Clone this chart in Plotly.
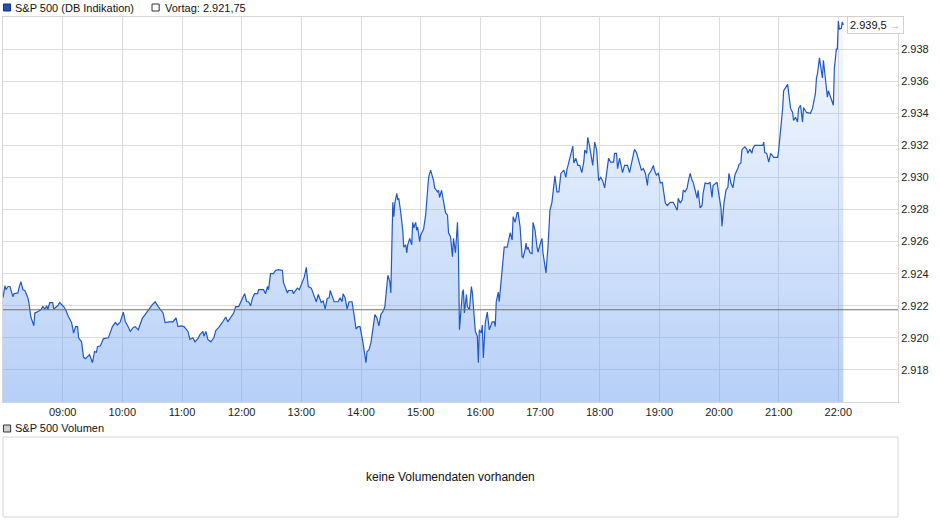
import datetime as dt
import plotly.graph_objects as go

# ---------------- data ----------------
title_main = "S&P 500 (DB Indikation)"
title_volume = "S&P 500 Volumen"
no_volume_text = "keine Volumendaten vorhanden"
previous_close = 2921.75

hour_ticks = ["09:00", "10:00", "11:00", "12:00", "13:00", "14:00", "15:00",
              "16:00", "17:00", "18:00", "19:00", "20:00", "21:00", "22:00"]
price_ticks = [2918, 2920, 2922, 2924, 2926, 2928, 2930, 2932, 2934, 2936, 2938]

# minutes after 08:00 and the index level at that minute
minutes_since_0800 = [
    0, 2, 3, 5, 7, 10, 11, 15, 16, 18,
    20, 22, 25, 26, 28, 31, 32, 34, 38, 40,
    42, 44, 45, 47, 50, 51, 55, 57, 61, 63,
    66, 69, 71, 73, 75, 76, 79, 81, 83, 85,
    87, 90, 92, 94, 95, 98, 101, 106, 110, 113,
    115, 118, 121, 123, 125, 128, 131, 133, 136, 140,
    143, 146, 150, 153, 156, 161, 163, 167, 171, 174,
    176, 179, 182, 186, 188, 191, 193, 196, 198, 201,
    202, 204, 206, 209, 212, 214, 217, 221, 224, 226,
    229, 232, 234, 237, 241, 243, 245, 247, 249, 251,
    253, 256, 257, 262, 264, 266, 267, 269, 272, 274,
    277, 281, 282, 286, 287, 291, 292, 296, 298, 301,
    303, 305, 307, 310, 312, 315, 317, 320, 322, 324,
    326, 328, 329, 331, 333, 337, 339, 341, 342, 344,
    346, 348, 351, 353, 355, 357, 359, 362, 365, 366,
    368, 370, 372, 374, 376, 378, 380, 383, 384, 386,
    387, 389, 390, 392, 393, 394, 396, 397, 398, 400,
    402, 403, 405, 406, 407, 409, 411, 412, 413, 415,
    416, 417, 419, 420, 423, 425, 427, 428, 430, 432,
    433, 434, 437, 438, 439, 441, 443, 445, 447, 448,
    450, 452, 453, 455, 457, 458, 459, 462, 463, 464,
    466, 467, 469, 471, 472, 473, 475, 477, 478, 479,
    481, 482, 483, 485, 487, 489, 492, 494, 495, 496,
    498, 499, 502, 504, 507, 508, 510, 512, 513, 515,
    517, 518, 520, 522, 523, 525, 526, 527, 528, 530,
    532, 533, 535, 537, 538, 540, 542, 543, 545, 546,
    548, 550, 552, 553, 555, 557, 559, 561, 564, 566,
    567, 569, 571, 573, 574, 576, 578, 580, 582, 584,
    585, 587, 588, 590, 593, 595, 597, 599, 601, 603,
    605, 607, 609, 611, 614, 615, 617, 618, 620, 623,
    625, 628, 630, 633, 635, 637, 639, 642, 644, 646,
    648, 649, 652, 654, 655, 657, 659, 661, 663, 664,
    666, 668, 671, 674, 676, 678, 679, 681, 683, 684,
    686, 688, 689, 691, 693, 694, 696, 698, 699, 701,
    703, 704, 706, 709, 711, 713, 714, 718, 720, 722,
    723, 725, 727, 729, 730, 732, 734, 736, 738, 739,
    740, 742, 743, 744, 746, 748, 749, 751, 753, 754,
    756, 758, 760, 764, 765, 766, 768, 769, 770, 772,
    775, 777, 779, 780, 782, 784, 785, 787, 789, 790,
    791, 792, 794, 795, 797, 799, 800, 802, 804, 805,
    808, 810, 812, 814, 815, 817, 818, 819, 821, 823,
    824, 825, 827, 829, 830, 832, 834, 835, 836, 838,
    839, 840, 841, 843, 844, 845,
]
prices = [
    2922.5, 2923.25, 2923.0, 2923.2, 2923.2, 2922.55, 2922.75, 2922.8, 2923.1, 2923.5,
    2923.0, 2922.95, 2922.5, 2922.2, 2921.3, 2920.75, 2921.55, 2921.6, 2921.75, 2921.95,
    2921.8, 2922.0, 2921.75, 2922.2, 2922.2, 2921.8, 2922.0, 2922.2, 2921.95, 2921.75,
    2921.3, 2920.95, 2920.3, 2920.7, 2920.7, 2920.0, 2919.75, 2918.8, 2918.7, 2918.8,
    2918.95, 2918.45, 2919.15, 2919.1, 2919.45, 2919.5, 2919.95, 2920.0, 2920.7, 2920.95,
    2920.8, 2921.0, 2921.6, 2921.0, 2920.8, 2920.4, 2920.65, 2920.7, 2920.5, 2921.2,
    2921.45, 2921.75, 2922.05, 2922.25, 2921.95, 2921.55, 2920.95, 2921.0, 2921.0, 2921.25,
    2920.7, 2920.75, 2920.7, 2920.4, 2919.9, 2920.0, 2919.75, 2919.95, 2920.2, 2920.4,
    2920.1, 2920.4, 2919.9, 2919.75, 2920.0, 2920.45, 2920.65, 2921.0, 2921.3, 2921.0,
    2921.25, 2921.55, 2921.95, 2921.95, 2922.5, 2922.75, 2922.25, 2922.25, 2922.0, 2922.5,
    2922.75, 2922.75, 2923.0, 2923.0, 2922.75, 2923.2, 2923.0, 2924.0, 2924.0, 2924.2,
    2924.25, 2924.2, 2923.45, 2922.8, 2922.95, 2922.95, 2922.75, 2923.1, 2923.0, 2923.5,
    2923.8, 2924.4, 2923.2, 2923.1, 2922.8, 2922.25, 2922.7, 2922.2, 2922.3, 2921.8,
    2922.45, 2922.5, 2922.95, 2922.6, 2922.25, 2922.25, 2922.5, 2922.25, 2922.75, 2922.5,
    2921.8, 2922.25, 2922.25, 2921.45, 2920.55, 2920.7, 2920.7, 2919.7, 2918.45, 2919.15,
    2919.25, 2919.7, 2920.7, 2921.45, 2921.25, 2920.75, 2921.45, 2921.75, 2921.95, 2923.45,
    2923.9, 2923.5, 2922.8, 2928.45, 2927.55, 2928.4, 2929.0, 2928.6, 2928.7, 2927.8,
    2926.7, 2925.65, 2925.8, 2925.3, 2925.8, 2926.2, 2925.8, 2927.2, 2926.85, 2927.2,
    2926.7, 2926.9, 2926.0, 2926.4, 2926.8, 2927.65, 2929.2, 2930.0, 2930.45, 2930.0,
    2929.8, 2929.35, 2929.1, 2929.2, 2928.75, 2929.2, 2928.4, 2927.8, 2927.65, 2926.55,
    2926.3, 2925.05, 2926.2, 2925.3, 2927.2, 2925.3, 2920.5, 2922.85, 2923.0, 2921.55,
    2922.7, 2921.95, 2921.75, 2923.2, 2922.8, 2921.95, 2920.4, 2920.1, 2918.45, 2920.5,
    2920.3, 2920.8, 2918.75, 2920.95, 2921.6, 2920.5, 2921.0, 2921.0, 2920.7, 2922.25,
    2922.85, 2922.25, 2924.65, 2925.65, 2925.65, 2925.95, 2926.55, 2926.1, 2927.55, 2927.2,
    2927.8, 2927.8, 2926.9, 2925.05, 2925.0, 2925.5, 2925.9, 2925.5, 2925.65, 2925.3,
    2925.25, 2927.2, 2926.7, 2925.65, 2925.35, 2925.8, 2926.2, 2925.3, 2924.35, 2924.05,
    2925.65, 2927.95, 2928.45, 2929.0, 2930.1, 2929.1, 2929.1, 2930.25, 2930.45, 2930.0,
    2930.45, 2930.95, 2931.4, 2931.95, 2930.9, 2931.2, 2930.75, 2930.75, 2930.3, 2930.95,
    2931.7, 2931.5, 2932.5, 2931.9, 2930.75, 2932.2, 2931.7, 2929.8, 2930.0, 2929.8,
    2929.35, 2930.25, 2931.2, 2930.95, 2930.95, 2931.5, 2931.5, 2930.55, 2931.2, 2930.3,
    2930.75, 2930.75, 2930.3, 2931.15, 2931.75, 2931.55, 2931.05, 2930.45, 2930.55, 2930.25,
    2929.5, 2930.15, 2930.45, 2930.75, 2930.45, 2930.15, 2930.25, 2929.65, 2929.7, 2929.2,
    2928.4, 2928.25, 2928.45, 2928.45, 2928.15, 2927.95, 2928.7, 2928.4, 2928.6, 2929.2,
    2929.1, 2929.35, 2929.7, 2930.25, 2929.8, 2929.7, 2929.2, 2928.7, 2929.2, 2928.1,
    2928.25, 2929.0, 2929.65, 2929.6, 2929.7, 2928.75, 2929.5, 2929.7, 2928.9, 2928.1,
    2926.95, 2928.4, 2929.2, 2929.4, 2930.25, 2929.65, 2929.35, 2930.15, 2930.45, 2930.55,
    2930.8, 2930.9, 2931.7, 2931.8, 2931.9, 2931.75, 2931.5, 2931.75, 2931.5, 2931.8,
    2932.0, 2932.0, 2932.0, 2932.0, 2932.2, 2931.55, 2931.5, 2931.25, 2930.95, 2931.5,
    2931.25, 2931.25, 2931.25, 2931.7, 2932.95, 2934.3, 2935.4, 2935.65, 2935.8, 2935.3,
    2934.5, 2934.3, 2934.05, 2933.55, 2933.75, 2933.45, 2934.3, 2934.5, 2933.45, 2934.35,
    2934.05, 2934.0, 2934.0, 2934.3, 2934.65, 2935.25, 2936.2, 2936.45, 2937.45, 2936.65,
    2936.2, 2937.3, 2936.2, 2935.0, 2935.4, 2935.0, 2934.65, 2934.5, 2936.8, 2938.0,
    2938.0, 2939.75, 2939.25, 2939.3, 2939.7, 2939.5,
]

# ---------------- helpers ----------------
base = dt.datetime(2019, 4, 26, 8, 0)
times = [base + dt.timedelta(minutes=m) for m in minutes_since_0800]
tick_times = [dt.datetime.combine(base.date(), dt.time.fromisoformat(h)) for h in hour_ticks]


def de(v, nd):
    s = f"{v:,.{nd}f}"
    return s.replace(",", "X").replace(".", ",").replace("X", ".")


FONT = "Liberation Sans, Arial, sans-serif"
y_lo, y_hi = 2916, 2940

fig = go.Figure()
fig.add_trace(go.Scatter(
    x=times, y=prices, mode="lines",
    line=dict(color="#2159c4", width=1.2),
    fill="tozeroy",
    fillgradient=dict(type="vertical",
                      colorscale=[[0, "rgba(110,160,240,0.5)"], [1, "rgba(110,160,240,0.05)"]],
                      start=y_lo, stop=y_hi),
    hoverinfo="skip", showlegend=False,
))

fig.add_shape(type="line", xref="x domain", yref="y", x0=0, x1=1,
              y0=previous_close, y1=previous_close,
              line=dict(color="#707070", width=1), layer="above")

# volume panel
fig.add_shape(type="rect", xref="paper", yref="paper", x0=0, x1=1, y0=0, y1=0.16,
              line=dict(color="#d6d6d6", width=1), fillcolor="rgba(0,0,0,0)")
fig.add_annotation(xref="paper", yref="paper", x=0.5, y=0.08, xanchor="center", yanchor="middle",
                   text=no_volume_text, showarrow=False,
                   font=dict(family=FONT, size=12, color="#111"))

# legend rows
fig.add_shape(type="rect", xref="paper", yref="paper", x0=0.0005, x1=0.0085, y0=1.012, y1=1.026,
              line=dict(color="#1a2f66", width=1), fillcolor="#2150b8")
fig.add_annotation(xref="paper", yref="paper", x=0.0115, y=1.019, xanchor="left", yanchor="middle",
                   text=title_main, showarrow=False, font=dict(family=FONT, size=11, color="#111"))
fig.add_shape(type="rect", xref="paper", yref="paper", x0=0.1665, x1=0.1745, y0=1.012, y1=1.026,
              line=dict(color="#333", width=1), fillcolor="white")
fig.add_annotation(xref="paper", yref="paper", x=0.179, y=1.019, xanchor="left", yanchor="middle",
                   text=f"Vortag: {de(previous_close, 2)}", showarrow=False,
                   font=dict(family=FONT, size=11, color="#111"))
fig.add_shape(type="rect", xref="paper", yref="paper", x0=0.0005, x1=0.0085, y0=0.17, y1=0.184,
              line=dict(color="#333", width=1), fillcolor="#cfcfcf")
fig.add_annotation(xref="paper", yref="paper", x=0.0115, y=0.178, xanchor="left", yanchor="middle",
                   text=title_volume, showarrow=False, font=dict(family=FONT, size=11, color="#111"))

# last value label
fig.add_annotation(xref="paper", yref="y", x=0.943, y=prices[-1], xanchor="left", yanchor="middle",
                   text=f"{de(prices[-1], 1)} <span style='color:#b0b0b0'>→</span>",
                   showarrow=False, bgcolor="white", bordercolor="#cfcfcf", borderwidth=1, borderpad=2,
                   font=dict(family=FONT, size=11, color="#111"))

fig.update_layout(
    width=940, height=526,
    margin=dict(l=3, r=42, t=17, b=9),
    paper_bgcolor="white", plot_bgcolor="white",
    separators=",.",
    font=dict(family=FONT, size=11, color="#222"),
    xaxis=dict(type="date", range=[base, base + dt.timedelta(hours=15)], domain=[0, 1],
               tickvals=tick_times, ticktext=hour_ticks,
               showgrid=True, gridcolor="#dcdcdc", gridwidth=1,
               showline=True, mirror=True, linecolor="#d6d6d6", linewidth=1,
               ticks="", zeroline=False, fixedrange=True,
               tickfont=dict(family=FONT, size=11, color="#222")),
    yaxis=dict(range=[y_lo, y_hi], domain=[0.23, 1], side="right",
               tickvals=price_ticks, tickformat=",d",
               showgrid=True, gridcolor="#dcdcdc", gridwidth=1,
               showline=True, mirror=True, linecolor="#d6d6d6", linewidth=1,
               ticks="", zeroline=False, fixedrange=True,
               tickfont=dict(family=FONT, size=11, color="#222")),
)

fig.write_html(
    "out.html",
    config={"displayModeBar": False},
    post_script="document.body.style.margin='0';document.body.style.overflow='hidden';",
)
